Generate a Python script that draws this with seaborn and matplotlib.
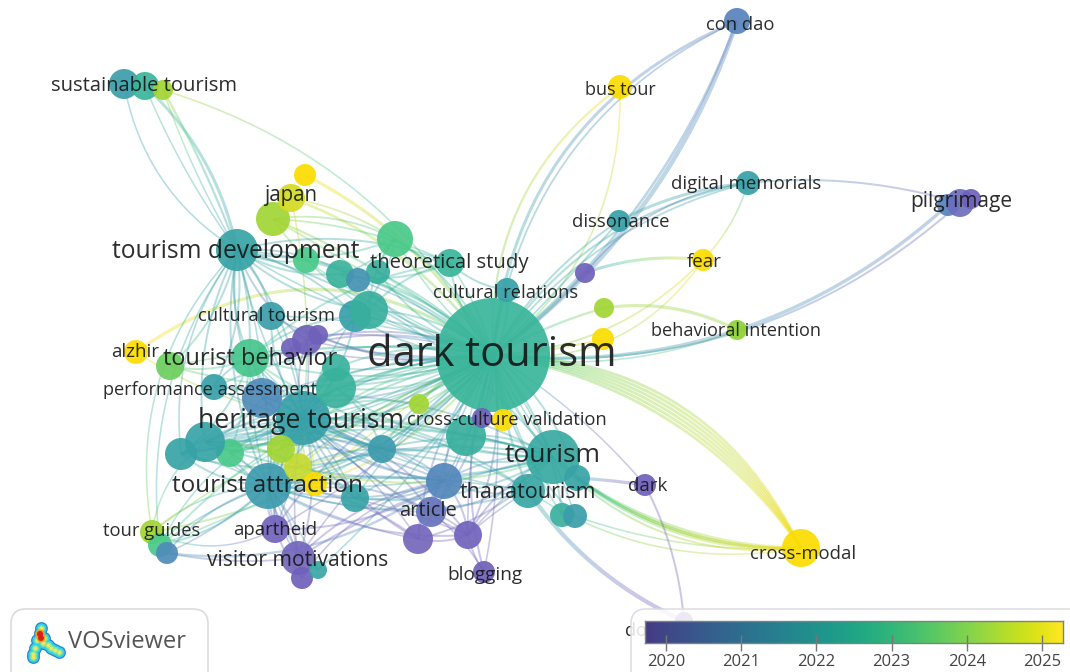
import numpy as np
import pandas as pd
import seaborn as sns
import matplotlib.pyplot as plt
from matplotlib.collections import LineCollection
from matplotlib.colors import LinearSegmentedColormap, Normalize
from matplotlib.patches import FancyBboxPatch

# map positions, weights and average publication year of the keywords
node_id = ['dark', 'tourism', 'heritage', 'attraction', 'development', 'behavior',
           'sust1', 'sust2', 'sust3', 'bus', 'condao', 'digital', 'dissonance',
           'pil1', 'pil2', 'pil3', 'p585', 'fear', 'g604', 'behavioral', 'y603',
           'crossmodal', 'darkk', 'doom', 'thana', 't577', 'c562', 'c575', 'article',
           'b444', 'p418', 'p468', 'blog', 'g466', 'crossval', 'p482', 'g419', 'b382',
           't355', 'y298', 'g281', 'y315', 'g230', 't205', 't181', 't336', 't337',
           'b262', 'perf', 'g170', 'alzhir', 'cultural', 'p305', 'p318', 'p291',
           's355', 's369', 'g395', 'theo', 'relat', 't378', 't340', 'b358', 'g306',
           'g273', 'japan', 'y305', 'guides', 'g160', 'b167', 'apartheid', 'visitor',
           'p302', 't318']
node_x = [493, 553, 303, 268, 237, 250, 124, 145, 163, 620, 737, 748, 619, 948, 960, 971,
          585, 703, 604, 737, 603, 801, 645, 684, 528, 577, 562, 575, 431, 444, 418, 468,
          484, 466, 503, 482, 419, 382, 355, 298, 281, 315, 230, 205, 181, 336, 336, 262,
          214, 170, 136, 271, 307, 318, 291, 355, 369, 395, 450, 507, 378, 340, 358, 306,
          273, 291, 305, 152, 160, 167, 275, 298, 302, 318]
node_y = [355, 457, 418, 486, 250, 358, 84, 86, 90, 87, 21, 183, 221, 205, 203, 199, 273,
          260, 308, 330, 339, 548, 485, 621, 491, 478, 515, 516, 512, 481, 539, 535, 572,
          436, 420, 418, 404, 449, 498, 467, 449, 484, 453, 442, 454, 388, 368, 398, 387,
          366, 352, 316, 340, 335, 348, 316, 310, 239, 263, 290, 272, 274, 280, 260, 219,
          198, 175, 532, 545, 553, 529, 558, 578, 570]
node_r = [57, 27, 27, 23, 21, 19, 15, 14, 10, 12, 13, 12, 11, 11, 14, 10, 10, 11, 10, 10,
          11, 19, 11, 9, 17, 13, 12, 12, 15, 18, 15, 14, 11, 20, 11, 10, 10, 14, 14, 14, 14,
          12, 14, 20, 16, 20, 14, 20, 13, 14, 12, 14, 15, 10, 10, 16, 19, 18, 14, 12, 12,
          14, 12, 13, 17, 14, 11, 12, 12, 11, 14, 17, 11, 9]
node_year = [2022.5, 2022.1, 2021.8, 2021.6, 2021.9, 2022.9, 2021.7, 2022.5, 2024.2, 2025,
             2020.8, 2021.8, 2021.8, 2020.8, 2020.4, 2020, 2020, 2025, 2024.2, 2024, 2025,
             2025, 2020, 2020.1, 2022, 2021.9, 2022.3, 2021.7, 2020.5, 2020.9, 2020.2,
             2020.1, 2020, 2022.3, 2025, 2020, 2024.2, 2021.6, 2021.9, 2024.6, 2024.2, 2025,
             2023, 2021.9, 2021.9, 2022.4, 2022.4, 2021, 2021.8, 2023.5, 2025, 2021.7, 2020,
             2020, 2020, 2021.8, 2022.3, 2023, 2022.5, 2021.8, 2022.3, 2022.4, 2021.3, 2023,
             2024.2, 2024.7, 2025, 2024.2, 2023, 2021, 2020.1, 2020.2, 2020, 2022]

# keyword labels
label_text = ['dark tourism', 'tourism', 'heritage tourism', 'tourist attraction',
              'tourism development', 'tourist behavior', 'sustainable tourism', 'bus tour',
              'con dao', 'digital memorials', 'dissonance', 'pilgrimage', 'fear',
              'behavioral intention', 'cross-modal', 'dark', 'do', 'thanatourism', 'article',
              'blogging', 'cross-culture validation', 'performance assessment', 'alzhir',
              'cultural tourism', 'japan', 'theoretical study', 'cultural relations',
              'tour guides', 'apartheid', 'visitor motivations']
label_x = [492, 553, 301, 267, 236, 250, 144, 620, 740, 746, 621, 961, 704, 736, 803, 648,
           636, 528, 428, 485, 507, 210, 135, 266, 291, 449, 506, 152, 275, 298]
label_y = [355, 456, 421, 486, 251, 359, 86, 90, 25, 184, 222, 202, 262, 331, 554, 486,
           631, 493, 511, 575, 420, 390, 352, 316, 196, 263, 293, 531, 530, 560]
label_size = [30, 19, 19.2, 17.5, 17.7, 16.9, 14.5, 13, 13.2, 13.4, 13.3, 15, 13.5, 13.1, 13.3,
              13.5, 13, 15.5, 14.5, 13.7, 13.2, 13.1, 13.5, 13.2, 14.8, 14.6, 13.2, 13.2, 13.3, 15.2]

# colour scale
bar_ticks = [2020, 2021, 2022, 2023, 2024, 2025]
bar_min, bar_max = 2019.72, 2025.28

# colours the keywords take on screen, lighter than the bar
shade_years = [2019.72, 2020.2, 2021, 2021.8, 2022.5, 2023, 2024, 2024.6, 2025, 2025.28]
shade_colors = ['#6a58b8', '#7466bc', '#4e8cba', '#37a0a8', '#39b59a', '#49c98a', '#8ed234',
                '#c4da30', '#fbdc00', '#fbdc00']

# single links (from, to, bend, width)
single_links = [
    ('sust1', 'development', 0.22, 1.6), ('sust2', 'development', -0.16, 3.0),
    ('sust2', 'development', 0.06, 1.5), ('sust3', 'development', -0.04, 2.2),
    ('sust3', 'development', 0.05, 1.5), ('sust3', 'dark', -0.2, 1.6),
    ('y305', 'dark', -0.15, 3.2), ('japan', 'dark', -0.16, 2.6), ('japan', 'g395', -0.1, 1.8),
    ('g273', 'dark', -0.08, 2.2), ('g273', 'dark', -0.02, 1.8), ('g273', 'theo', -0.1, 1.8),
    ('g273', 'g395', -0.16, 1.8), ('g273', 's369', 0.1, 1.8), ('japan', 'heritage', -0.08, 1.5),
    ('alzhir', 'dark', -0.36, 3.2), ('alzhir', 'heritage', 0.1, 1.6),
    ('dark', 'bus', -0.27, 2.2), ('dark', 'bus', 0.25, 1.6), ('dark', 'condao', -0.3, 3.0),
    ('dark', 'condao', -0.27, 1.8), ('dark', 'condao', 0.16, 4.5), ('dark', 'condao', 0.14, 2.6),
    ('dark', 'digital', -0.22, 2.2), ('dark', 'digital', -0.18, 1.8), ('digital', 'fear', -0.12, 1.6),
    ('digital', 'pil2', -0.1, 2.0), ('p585', 'digital', -0.2, 1.6), ('dark', 'dissonance', -0.12, 2.0),
    ('dark', 'dissonance', 0.02, 1.8), ('dissonance', 'digital', -0.1, 3.0),
    ('p585', 'fear', -0.12, 3.0), ('dark', 'fear', 0.2, 1.8), ('dark', 'fear', 0.3, 1.6),
    ('g604', 'behavioral', -0.16, 3.2), ('dark', 'g604', -0.06, 2.2), ('dark', 'behavioral', 0.14, 1.6),
    ('dark', 'pil1', 0.22, 3.4), ('dark', 'pil2', 0.22, 2.0), ('dark', 'p585', 0.06, 2.0),
    ('dark', 'y603', 0.05, 2.0),
    ('dark', 'crossmodal', -0.31, 2.8), ('dark', 'crossmodal', -0.29, 2.8),
    ('dark', 'crossmodal', -0.27, 2.8), ('dark', 'crossmodal', -0.25, 2.8),
    ('dark', 'crossmodal', -0.23, 2.8), ('dark', 'crossmodal', -0.21, 2.8),
    ('t577', 'crossmodal', 0.15, 3.0), ('t577', 'crossmodal', 0.17, 3.0),
    ('t577', 'crossmodal', 0.19, 3.0), ('tourism', 'crossmodal', 0.2, 2.6),
    ('tourism', 'crossmodal', 0.25, 2.0), ('thana', 'crossmodal', 0.2, 1.6),
    ('c575', 'crossmodal', 0.1, 1.6),
    ('darkk', 't577', 0.02, 3.2), ('darkk', 'doom', -0.1, 2.0), ('dark', 'darkk', -0.08, 1.5),
    ('thana', 'doom', 0.14, 4.2), ('dark', 'thana', 0.05, 2.4), ('dark', 'tourism', 0.12, 2.6),
    ('development', 'guides', 0.25, 1.6), ('development', 'g160', 0.2, 1.6),
    ('development', 't181', 0.2, 1.6), ('b167', 'b444', 0.2, 2.4), ('b167', 'visitor', 0.08, 1.8),
    ('guides', 'attraction', -0.18, 1.6), ('guides', 'apartheid', 0.25, 1.5),
    ('guides', 't205', -0.2, 1.6), ('g160', 'heritage', -0.2, 1.5), ('visitor', 'tourism', -0.1, 2.0),
    ('p302', 'b444', -0.2, 1.6), ('t318', 'dark', 0.08, 1.6), ('visitor', 'dark', -0.08, 1.6),
    ('p418', 'p468', 0.15, 2.0), ('p468', 'blog', 0.1, 2.0), ('p468', 'thana', -0.05, 1.6),
    ('p468', 'tourism', -0.05, 1.5), ('article', 'blog', -0.1, 1.6), ('article', 'p468', -0.1, 1.8),
]

# keywords that link to a common keyword
spokes = {
    'dark': ['heritage', 'attraction', 'development', 'behavior', 'relat', 'theo', 's369', 's355',
             'g395', 't378', 't340', 'b358', 'g306', 'cultural', 'p305', 'p318', 'p291', 't336',
             't337', 'b262', 'perf', 'g170', 'g230', 't205', 't181', 'y298', 'g281', 'y315',
             'b382', 't355', 'g419', 'g466', 'crossval', 'p482', 'b444', 'article', 'p418',
             'p468', 'apartheid', 'guides', 'g160', 'c562', 'c575', 't577', 'blog'],
    'heritage': ['attraction', 'behavior', 'b262', 't336', 't337', 't205', 't181', 'g230', 'y298',
                 'g281', 'y315', 'b382', 't355', 'g419', 'b444', 'article', 'p418', 'p468',
                 'apartheid', 'visitor', 'tourism', 'thana', 'development', 'cultural', 'perf',
                 'p305', 's355'],
    'attraction': ['behavior', 'development', 'b444', 'article', 'apartheid', 'visitor', 'p302',
                   'g160', 'b167', 'tourism', 'thana', 'b382', 'p468', 'p418', 't205', 't181',
                   't318', 'g230', 't337'],
    'development': ['behavior', 'cultural', 's369', 's355', 'g395', 'theo', 't340', 'b358', 'g306',
                    'g230', 't205', 'perf', 'b262', 'tourism', 'p305', 'g170'],
    'tourism': ['b444', 'article', 'b382', 't355', 'p468', 'behavior', 'g230', 't336', 't181',
                'y298', 'g466', 'p418', 'b262', 't205'],
    'b444': ['p418', 'p468', 'b382', 't355', 'visitor', 'apartheid', 'thana', 'b262', 't181'],
    'behavior': ['perf', 's355', 's369', 'theo', 'p305', 't181', 'b382', 'g170'],
    'g395': ['theo', 's355', 't378', 't340', 's369'],
    'theo': ['s369', 't340', 'relat'],
    'b382': ['t205', 't181', 'g230', 'b262', 't336', 'thana', 'g466'],
    't205': ['b262', 'y298', 'g281', 't355', 't336', 'g466'],
}

# links are curved through a control point sideways of the chord
xy = dict(zip(node_id, zip(node_x, node_y)))
yr = dict(zip(node_id, node_year))

all_links = list(single_links)
for hub, others in spokes.items():
    for i, other in enumerate(others):
        bend = 0.16 if i % 2 else -0.16
        all_links.append((other, hub, bend, 2.0))
        if hub in ('dark', 'heritage', 'attraction'):
            all_links.append((other, hub, -bend / 2, 1.6))

bar_cmap = LinearSegmentedColormap.from_list('vos', plt.get_cmap('viridis')(np.linspace(0.17, 1, 64)))
norm = Normalize(bar_min, bar_max)
shade_pos = (np.array(shade_years) - bar_min) / (bar_max - bar_min)
cmap = LinearSegmentedColormap.from_list('shade', list(zip(shade_pos, shade_colors)))

sns.set_theme(style='white')
plt.rcParams['font.family'] = ['Open Sans', 'DejaVu Sans']

fig = plt.figure(figsize=(10.7, 6.72), dpi=100)
ax = fig.add_axes([0, 0, 1, 1])

t = np.linspace(0, 1, 25)
segs, seg_years, seg_widths = [], [], []
for a, b, bend, width in all_links:
    p0, p2 = np.array(xy[a], float), np.array(xy[b], float)
    d = p2 - p0
    c = (p0 + p2) / 2 + bend * np.array([-d[1], d[0]])
    pts = np.outer((1 - t) ** 2, p0) + np.outer(2 * t * (1 - t), c) + np.outer(t ** 2, p2)
    # links to the newest keywords turn yellow early, the others keep the older colour longer
    power = 0.5 if max(yr[a], yr[b]) >= 2024.5 else 2.0
    for k in range(len(t) - 1):
        segs.append(pts[k:k + 2])
        if yr[b] > yr[a]:
            seg_years.append(yr[a] + (yr[b] - yr[a]) * t[k] ** power)
        else:
            seg_years.append(yr[b] + (yr[a] - yr[b]) * (1 - t[k]) ** power)
        seg_widths.append(width * 0.72)

lines = LineCollection(segs, cmap=cmap, norm=norm, linewidths=seg_widths, alpha=0.36,
                       capstyle='butt', zorder=1)
lines.set_array(np.array(seg_years))
ax.add_collection(lines)

nodes = pd.DataFrame({'x': node_x, 'y': node_y, 'r': node_r, 'year': node_year})
sns.scatterplot(data=nodes, x='x', y='y', hue='year', hue_norm=norm, palette=cmap,
                s=(nodes['r'] * 2 * 0.72) ** 2, alpha=0.92, linewidth=0, legend=False,
                ax=ax, zorder=3)

for txt, x, y, size in zip(label_text, label_x, label_y, label_size):
    ax.text(x, y, txt, fontsize=size, color='#161616', alpha=0.9, ha='center', va='center', zorder=4)

ax.set_xlim(0, 1070)
ax.set_ylim(672, 0)
ax.axis('off')

# VOSviewer badge
ax.add_patch(FancyBboxPatch((11, 609), 197, 90, boxstyle='round,pad=0,rounding_size=15',
                            fc='white', ec='#dcdcdc', lw=1.2, zorder=5))
logo_x = [41, 40, 41, 43, 37, 44, 35, 33, 33, 48, 51, 55, 59]
logo_y = [628, 633, 638, 643, 640, 638, 648, 654, 657, 645, 648, 650, 652]
for radius, col in [(6.4, '#2a7fd6'), (5.2, '#2fd0e8'), (3.4, '#7fe69a'), (2.0, '#eee860')]:
    ax.scatter(logo_x, logo_y, s=(radius * 2 * 0.72) ** 2, color=col, linewidth=0, zorder=6)
ax.scatter([40, 41], [634, 638], s=[45, 40], color='#f2a018', linewidth=0, zorder=7)
ax.scatter([40, 41], [634, 638], s=[20, 18], color='#d8201a', linewidth=0, zorder=7)
ax.text(68, 642, 'VOSviewer', fontsize=17, color='#555555', ha='left', va='center', zorder=7)

# legend box and colour bar
ax.add_patch(FancyBboxPatch((631, 609), 480, 90, boxstyle='round,pad=0,rounding_size=15',
                            fc='white', ec='#d8d8e0', lw=1.2, alpha=0.86, zorder=5))
cax = fig.add_axes([645 / 1070, 1 - 643 / 672, 418 / 1070, 22 / 672], zorder=6)
cax.imshow(np.linspace(bar_min, bar_max, 256)[None, :], aspect='auto', cmap=bar_cmap, norm=norm,
           extent=(bar_min, bar_max, 0, 1))
cax.set_yticks([])
cax.set_xticks(bar_ticks)
cax.set_xticklabels([str(y) for y in bar_ticks], fontsize=12, color='#444444')
cax.tick_params(axis='x', direction='inout', length=12, width=1, color='#777777', pad=2, bottom=True)
for spine in cax.spines.values():
    spine.set_color('#808080')
    spine.set_linewidth(1)

fig.savefig('out.png', dpi=100)
